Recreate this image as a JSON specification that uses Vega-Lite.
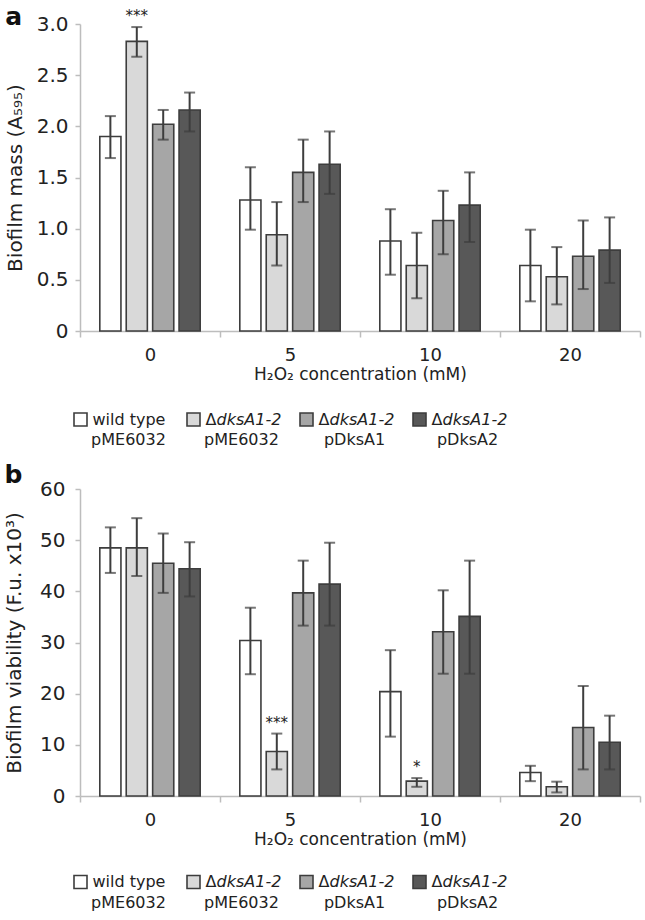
{
  "$schema": "https://vega.github.io/schema/vega-lite/v6.json",
  "background": "white",
  "padding": {"left": 4, "top": 5, "right": 5, "bottom": 0},
  "spacing": 0,
  "config": {
    "font": "DejaVu Sans",
    "view": {"stroke": null},
    "axis": {
      "labelFont": "DejaVu Sans", "titleFont": "DejaVu Sans",
      "labelColor": "#222222", "titleColor": "#222222",
      "domainColor": "#bdbdbd", "tickColor": "#bdbdbd", "domainWidth": 1.5, "tickWidth": 1.5,
      "grid": false, "labelFontSize": 18, "titleFontSize": 17, "titleFontWeight": "normal"
    },
    "title": {"font": "DejaVu Sans", "fontSize": 25, "fontWeight": "bold", "color": "#111111", "anchor": "start", "frame": "bounds"}
  },
  "resolve": {"scale": {"x": "independent", "y": "independent", "fill": "shared"}},
  "datasets": {
    "a": [
      {"conc": 0, "strain": "wild type pME6032", "mean": 1.90, "lo": 1.69, "hi": 2.10, "sig": ""},
      {"conc": 0, "strain": "ΔdksA1-2 pME6032", "mean": 2.83, "lo": 2.68, "hi": 2.97, "sig": "***"},
      {"conc": 0, "strain": "ΔdksA1-2 pDksA1", "mean": 2.02, "lo": 1.87, "hi": 2.16, "sig": ""},
      {"conc": 0, "strain": "ΔdksA1-2 pDksA2", "mean": 2.16, "lo": 1.95, "hi": 2.33, "sig": ""},
      {"conc": 5, "strain": "wild type pME6032", "mean": 1.28, "lo": 0.99, "hi": 1.60, "sig": ""},
      {"conc": 5, "strain": "ΔdksA1-2 pME6032", "mean": 0.94, "lo": 0.64, "hi": 1.26, "sig": ""},
      {"conc": 5, "strain": "ΔdksA1-2 pDksA1", "mean": 1.55, "lo": 1.26, "hi": 1.87, "sig": ""},
      {"conc": 5, "strain": "ΔdksA1-2 pDksA2", "mean": 1.63, "lo": 1.34, "hi": 1.95, "sig": ""},
      {"conc": 10, "strain": "wild type pME6032", "mean": 0.88, "lo": 0.55, "hi": 1.19, "sig": ""},
      {"conc": 10, "strain": "ΔdksA1-2 pME6032", "mean": 0.64, "lo": 0.32, "hi": 0.96, "sig": ""},
      {"conc": 10, "strain": "ΔdksA1-2 pDksA1", "mean": 1.08, "lo": 0.75, "hi": 1.37, "sig": ""},
      {"conc": 10, "strain": "ΔdksA1-2 pDksA2", "mean": 1.23, "lo": 0.87, "hi": 1.55, "sig": ""},
      {"conc": 20, "strain": "wild type pME6032", "mean": 0.64, "lo": 0.29, "hi": 0.99, "sig": ""},
      {"conc": 20, "strain": "ΔdksA1-2 pME6032", "mean": 0.53, "lo": 0.26, "hi": 0.82, "sig": ""},
      {"conc": 20, "strain": "ΔdksA1-2 pDksA1", "mean": 0.73, "lo": 0.41, "hi": 1.08, "sig": ""},
      {"conc": 20, "strain": "ΔdksA1-2 pDksA2", "mean": 0.79, "lo": 0.47, "hi": 1.11, "sig": ""}
    ],
    "b": [
      {"conc": 0, "strain": "wild type pME6032", "mean": 48.5, "lo": 43.6, "hi": 52.5, "sig": ""},
      {"conc": 0, "strain": "ΔdksA1-2 pME6032", "mean": 48.5, "lo": 43.0, "hi": 54.3, "sig": ""},
      {"conc": 0, "strain": "ΔdksA1-2 pDksA1", "mean": 45.5, "lo": 39.7, "hi": 51.3, "sig": ""},
      {"conc": 0, "strain": "ΔdksA1-2 pDksA2", "mean": 44.4, "lo": 39.0, "hi": 49.6, "sig": ""},
      {"conc": 5, "strain": "wild type pME6032", "mean": 30.4, "lo": 23.8, "hi": 36.8, "sig": ""},
      {"conc": 5, "strain": "ΔdksA1-2 pME6032", "mean": 8.7, "lo": 5.2, "hi": 12.2, "sig": "***"},
      {"conc": 5, "strain": "ΔdksA1-2 pDksA1", "mean": 39.7, "lo": 33.3, "hi": 46.0, "sig": ""},
      {"conc": 5, "strain": "ΔdksA1-2 pDksA2", "mean": 41.4, "lo": 33.3, "hi": 49.5, "sig": ""},
      {"conc": 10, "strain": "wild type pME6032", "mean": 20.4, "lo": 11.6, "hi": 28.5, "sig": ""},
      {"conc": 10, "strain": "ΔdksA1-2 pME6032", "mean": 2.9, "lo": 1.8, "hi": 3.5, "sig": "*"},
      {"conc": 10, "strain": "ΔdksA1-2 pDksA1", "mean": 32.1, "lo": 23.9, "hi": 40.2, "sig": ""},
      {"conc": 10, "strain": "ΔdksA1-2 pDksA2", "mean": 35.1, "lo": 23.9, "hi": 46.0, "sig": ""},
      {"conc": 20, "strain": "wild type pME6032", "mean": 4.6, "lo": 2.9, "hi": 5.9, "sig": ""},
      {"conc": 20, "strain": "ΔdksA1-2 pME6032", "mean": 1.8, "lo": 0.7, "hi": 2.8, "sig": ""},
      {"conc": 20, "strain": "ΔdksA1-2 pDksA1", "mean": 13.4, "lo": 5.2, "hi": 21.5, "sig": ""},
      {"conc": 20, "strain": "ΔdksA1-2 pDksA2", "mean": 10.5, "lo": 5.2, "hi": 15.7, "sig": ""}
    ],
    "legend": [
      {"strain": "wild type pME6032", "prefix": "wild type", "gene": "", "plasmid": "pME6032"},
      {"strain": "ΔdksA1-2 pME6032", "prefix": "Δ", "gene": "dksA1-2", "plasmid": "pME6032"},
      {"strain": "ΔdksA1-2 pDksA1", "prefix": "Δ", "gene": "dksA1-2", "plasmid": "pDksA1"},
      {"strain": "ΔdksA1-2 pDksA2", "prefix": "Δ", "gene": "dksA1-2", "plasmid": "pDksA2"}
    ]
  },
  "vconcat": [
    {
      "width": 560, "height": 307,
      "data": {"name": "a"},
      "title": {"text": "a", "offset": -21},
      "encoding": {
        "x": {"field": "conc", "type": "ordinal", "scale": {"paddingInner": 0, "paddingOuter": 0},
              "axis": {"title": "H₂O₂ concentration (mM)", "labelAngle": 0, "tickBand": "extent", "tickSize": 6, "labelPadding": 9, "titlePadding": 2}},
        "xOffset": {"field": "strain", "type": "nominal", "sort": ["wild type pME6032", "ΔdksA1-2 pME6032", "ΔdksA1-2 pDksA1", "ΔdksA1-2 pDksA2"],
                    "scale": {"paddingInner": 0.2, "paddingOuter": 0.75}}
      },
      "layer": [
        {"mark": {"type": "bar", "stroke": "#3d3d3d", "strokeWidth": 1.6},
         "encoding": {
           "y": {"field": "mean", "type": "quantitative", "scale": {"domain": [0, 3]},
                 "axis": {"title": "Biofilm mass (A₅₉₅)", "titleFontSize": 20, "labelFontSize": 20, "values": [0, 0.5, 1, 1.5, 2, 2.5, 3],
                          "labelExpr": "datum.value == 0 ? '0' : format(datum.value, '.1f')", "tickSize": 5, "labelPadding": 7, "titlePadding": 11}},
           "fill": {"field": "strain", "type": "nominal", "legend": null,
                    "scale": {"domain": ["wild type pME6032", "ΔdksA1-2 pME6032", "ΔdksA1-2 pDksA1", "ΔdksA1-2 pDksA2"], "range": ["#ffffff", "#d9d9d9", "#a6a6a6", "#585858"]}}
         }},
        {"mark": {"type": "rule", "color": "#3d3d3d", "strokeWidth": 2},
         "encoding": {"y": {"field": "lo", "type": "quantitative"}, "y2": {"field": "hi"}}},
        {"mark": {"type": "tick", "color": "#3d3d3d", "thickness": 2, "size": 11},
         "encoding": {"y": {"field": "lo", "type": "quantitative"}}},
        {"mark": {"type": "tick", "color": "#3d3d3d", "thickness": 2, "size": 11},
         "encoding": {"y": {"field": "hi", "type": "quantitative"}}},
        {"transform": [{"filter": "datum.sig != ''"}],
         "mark": {"type": "text", "dy": -11, "fontSize": 15, "baseline": "middle", "color": "#222222"},
         "encoding": {"y": {"field": "hi", "type": "quantitative"}, "text": {"field": "sig"}}}
      ]
    },
    {
      "width": 452, "height": 81,
      "data": {"name": "legend"},
      "encoding": {"x": {"field": "strain", "type": "nominal", "sort": ["wild type pME6032", "ΔdksA1-2 pME6032", "ΔdksA1-2 pDksA1", "ΔdksA1-2 pDksA2"],
                         "scale": {"type": "point", "padding": 0.5}, "axis": null}},
      "layer": [
        {"mark": {"type": "square", "size": 169, "filled": true, "opacity": 1, "stroke": "#3d3d3d", "strokeWidth": 1.6, "xOffset": -56, "yOffset": -3},
         "encoding": {"fill": {"field": "strain", "type": "nominal", "legend": null}}},
        {"mark": {"type": "text", "align": "left", "baseline": "middle", "dx": -44, "dy": -3, "fontSize": 16, "color": "#222222"},
         "encoding": {"text": {"field": "prefix"}}},
        {"mark": {"type": "text", "align": "left", "baseline": "middle", "dx": -33, "dy": -3, "fontSize": 16, "fontStyle": "italic", "color": "#222222"},
         "encoding": {"text": {"field": "gene"}}},
        {"mark": {"type": "text", "align": "center", "baseline": "middle", "dx": -8, "dy": 17.5, "fontSize": 16, "color": "#222222"},
         "encoding": {"text": {"field": "plasmid"}}}
      ]
    },
    {
      "width": 560, "height": 307,
      "data": {"name": "b"},
      "title": {"text": "b", "offset": -9},
      "encoding": {
        "x": {"field": "conc", "type": "ordinal", "scale": {"paddingInner": 0, "paddingOuter": 0},
              "axis": {"title": "H₂O₂ concentration (mM)", "labelAngle": 0, "tickBand": "extent", "tickSize": 6, "labelPadding": 9, "titlePadding": 2}},
        "xOffset": {"field": "strain", "type": "nominal", "sort": ["wild type pME6032", "ΔdksA1-2 pME6032", "ΔdksA1-2 pDksA1", "ΔdksA1-2 pDksA2"],
                    "scale": {"paddingInner": 0.2, "paddingOuter": 0.75}}
      },
      "layer": [
        {"mark": {"type": "bar", "stroke": "#3d3d3d", "strokeWidth": 1.6},
         "encoding": {
           "y": {"field": "mean", "type": "quantitative", "scale": {"domain": [0, 60]},
                 "axis": {"title": "Biofilm viability (F.u. x10³)", "titleFontSize": 20, "labelFontSize": 20, "values": [0, 10, 20, 30, 40, 50, 60],
                          "tickSize": 5, "labelPadding": 10, "titlePadding": 15}},
           "fill": {"field": "strain", "type": "nominal", "legend": null}
         }},
        {"mark": {"type": "rule", "color": "#3d3d3d", "strokeWidth": 2},
         "encoding": {"y": {"field": "lo", "type": "quantitative"}, "y2": {"field": "hi"}}},
        {"mark": {"type": "tick", "color": "#3d3d3d", "thickness": 2, "size": 11},
         "encoding": {"y": {"field": "lo", "type": "quantitative"}}},
        {"mark": {"type": "tick", "color": "#3d3d3d", "thickness": 2, "size": 11},
         "encoding": {"y": {"field": "hi", "type": "quantitative"}}},
        {"transform": [{"filter": "datum.sig != ''"}],
         "mark": {"type": "text", "dy": -11, "fontSize": 15, "baseline": "middle", "color": "#222222"},
         "encoding": {"y": {"field": "hi", "type": "quantitative"}, "text": {"field": "sig"}}}
      ]
    },
    {
      "width": 452, "height": 60,
      "data": {"name": "legend"},
      "encoding": {"x": {"field": "strain", "type": "nominal", "sort": ["wild type pME6032", "ΔdksA1-2 pME6032", "ΔdksA1-2 pDksA1", "ΔdksA1-2 pDksA2"],
                         "scale": {"type": "point", "padding": 0.5}, "axis": null}},
      "layer": [
        {"mark": {"type": "square", "size": 169, "filled": true, "opacity": 1, "stroke": "#3d3d3d", "strokeWidth": 1.6, "xOffset": -56, "yOffset": 5},
         "encoding": {"fill": {"field": "strain", "type": "nominal", "legend": null}}},
        {"mark": {"type": "text", "align": "left", "baseline": "middle", "dx": -44, "dy": 5, "fontSize": 16, "color": "#222222"},
         "encoding": {"text": {"field": "prefix"}}},
        {"mark": {"type": "text", "align": "left", "baseline": "middle", "dx": -33, "dy": 5, "fontSize": 16, "fontStyle": "italic", "color": "#222222"},
         "encoding": {"text": {"field": "gene"}}},
        {"mark": {"type": "text", "align": "center", "baseline": "middle", "dx": -8, "dy": 25.5, "fontSize": 16, "color": "#222222"},
         "encoding": {"text": {"field": "plasmid"}}}
      ]
    }
  ]
}
